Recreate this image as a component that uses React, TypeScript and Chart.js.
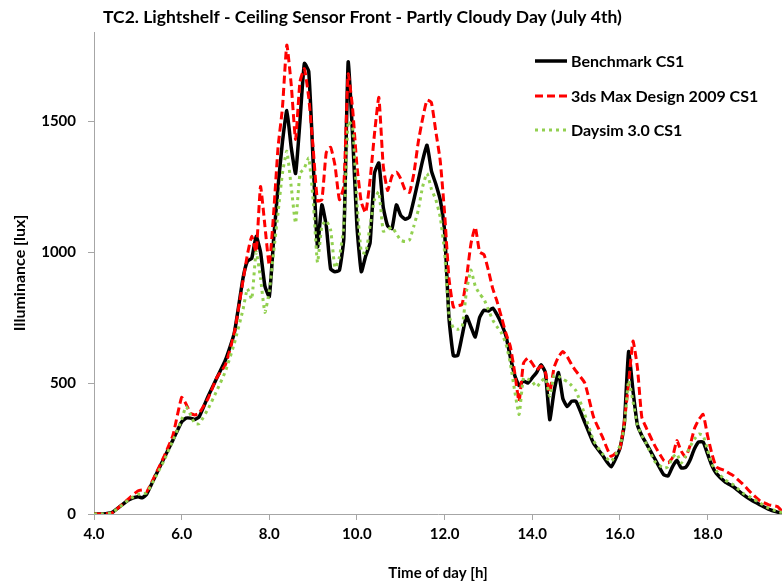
import React, { useEffect, useRef } from 'react';
import { Chart, registerables } from 'chart.js';

Chart.register(...registerables);

const FONT = 'Lato, "Open Sans", "DejaVu Sans", sans-serif';

const titleText = 'TC2. Lightshelf - Ceiling Sensor Front - Partly Cloudy Day (July 4th)';
const xAxisTitle = 'Time of day [h]';
const yAxisTitle = 'Illuminance [lux]';
const seriesNames = ['Benchmark CS1', '3ds Max Design 2009 CS1', 'Daysim 3.0 CS1'];

const xTickValues = [4, 6, 8, 10, 12, 14, 16, 18];
const yTickValues = [0, 500, 1000, 1500];

// time of day [h]
const times = [
  4.0, 4.2, 4.4, 4.6, 4.8, 5.0, 5.1, 5.2, 5.4, 5.6, 5.8, 6.0, 6.1, 6.2, 6.3, 6.4, 6.6, 6.8, 7.0, 7.2, 7.4,
  7.5, 7.6, 7.7, 7.8, 7.9, 8.0, 8.1, 8.2, 8.3, 8.4,
  8.5, 8.6, 8.7, 8.8, 8.9, 9.0, 9.1, 9.2, 9.3, 9.4,
  9.5, 9.6, 9.7, 9.8, 9.9, 10.0, 10.1, 10.2, 10.3, 10.4,
  10.5, 10.6, 10.7, 10.8, 10.9, 11.0, 11.1, 11.2, 11.3, 11.4,
  11.5, 11.6, 11.7, 11.8, 11.9, 12.0, 12.1, 12.2, 12.3, 12.4,
  12.5, 12.6, 12.7, 12.8, 12.9, 13.0, 13.1, 13.2, 13.3, 13.4,
  13.5, 13.6, 13.7, 13.8, 13.9, 14.0, 14.1, 14.2, 14.3, 14.4,
  14.5, 14.6, 14.7, 14.8, 14.9, 15.0,
  15.2, 15.4, 15.6, 15.8,
  16.0, 16.1, 16.2, 16.3, 16.4, 16.5, 16.6,
  16.8,
  17.0, 17.1, 17.2, 17.3, 17.4, 17.5, 17.6, 17.7, 17.8, 17.9, 18.0, 18.1, 18.2,
  18.4, 18.6, 18.8, 19.0, 19.2, 19.4, 19.6, 19.7,
];

const benchmark = [
  0, 0, 5, 30, 55, 66, 62, 75, 145, 214, 282, 352, 366, 366, 361, 371, 448, 518, 588, 690, 900,
  965, 976, 1060, 1000, 870, 830, 1050, 1250, 1420, 1540,
  1400, 1300, 1500, 1720, 1690, 1350, 1020, 1180, 1100, 935,
  925, 930, 1050, 1725, 1450, 1100, 925, 985, 1035, 1300,
  1340, 1172, 1100, 1090, 1180, 1140, 1125, 1134, 1200, 1275,
  1350, 1408, 1310, 1260, 1200, 1080, 750, 605, 605, 680,
  755, 715, 676, 750, 778, 775, 786, 760, 725, 680,
  600, 530, 490, 508, 500, 520, 540, 570, 540, 360,
  470, 540, 440, 410, 430, 430,
  350, 270, 225, 180,
  250, 340, 620, 470, 340, 300, 270,
  210,
  150, 145, 180, 205, 176, 178, 205, 248, 275, 275, 230, 185, 155,
  123, 103, 76, 53, 35, 18, 7, 2,
];

const max3ds = [
  0, 0, 3, 30, 60, 88, 92, 85, 150, 220, 300, 445, 420, 385, 378, 385, 440, 520, 570, 690, 890,
  990, 1060, 1000, 1250, 1100, 950, 1150, 1400, 1550, 1790,
  1640, 1430, 1650, 1700, 1590, 1400, 1195, 1200, 1380, 1400,
  1330, 1200, 1250, 1680, 1550, 1330, 1190, 1150, 1275, 1450,
  1590, 1330, 1235, 1290, 1305, 1280, 1237, 1228, 1300, 1420,
  1510, 1580, 1570, 1460, 1350, 1150, 900, 790, 795, 800,
  900, 1030, 1095, 1000, 990, 930, 860, 810, 750, 690,
  640, 540, 430, 575, 595, 575, 550, 565, 540, 465,
  560, 600, 620, 600, 570, 545,
  500, 370, 295, 220,
  250, 350, 500, 660, 560, 370, 330,
  260,
  205, 195, 215, 280, 240, 218, 260, 325, 360, 380, 300, 230, 180,
  165, 145, 115, 80, 50, 35, 28, 10,
];

const daysim = [
  0, 0, 5, 28, 55, 75, 78, 80, 140, 205, 280, 360, 410, 380, 345, 345, 400, 470, 545, 650, 780,
  860, 820, 1000, 900, 770, 850, 1000, 1150, 1300, 1385,
  1250, 1110, 1300, 1320, 1360, 1200, 960, 1100, 1120, 1084,
  940, 980, 1100, 1500, 1480, 1190, 1000, 996, 1100, 1200,
  1230, 1080, 1085, 1095, 1070, 1045, 1040, 1046, 1100, 1160,
  1250, 1300, 1240, 1200, 1134, 1000, 760, 710, 705, 714,
  850, 931, 870, 840, 820, 780, 740, 714, 690, 650,
  575, 470, 380, 520, 515, 505, 485, 505, 520, 450,
  530, 525, 515, 505, 490, 470,
  380, 280, 230, 200,
  260, 330, 510, 430, 340, 300, 270,
  200,
  175, 180, 215, 230, 195, 220, 256, 285, 305, 300, 245, 190, 165,
  130, 110, 80, 62, 42, 22, 10, 5,
];

export default function App() {
  const canvasRef = useRef<HTMLCanvasElement | null>(null);

  useEffect(() => {
    if (!canvasRef.current) return;
    const toPoints = (vals: number[]) => times.map((t, i) => ({ x: t, y: vals[i] }));

    const overlayPlugin = {
      id: 'titleAndLegend',
      afterDraw(chart: any) {
        const ctx = chart.ctx as CanvasRenderingContext2D;
        ctx.save();
        ctx.fillStyle = '#000';
        ctx.textBaseline = 'middle';
        ctx.textAlign = 'left';
        ctx.font = `bold 17.5px ${FONT}`;
        ctx.fillText(titleText, 103, 17);

        const rows = [61, 96, 130];
        chart.data.datasets.forEach((ds: any, i: number) => {
          const y = rows[i];
          ctx.beginPath();
          ctx.setLineDash(ds.borderDash || []);
          ctx.lineWidth = ds.borderWidth;
          ctx.strokeStyle = ds.borderColor;
          ctx.lineCap = ds.borderCapStyle || 'butt';
          ctx.moveTo(535, y);
          ctx.lineTo(567, y);
          ctx.stroke();
          ctx.setLineDash([]);
          ctx.fillStyle = '#000';
          ctx.font = `bold 16px ${FONT}`;
          ctx.fillText(ds.label, 571, y + 1);
        });
        ctx.restore();
      },
    };

    const axisColor = '#a6a6a6';
    const tickFont = { family: FONT, size: 15, weight: 'bold' as const };

    const chart = new Chart(canvasRef.current, {
      type: 'line',
      data: {
        datasets: [
          {
            label: seriesNames[0],
            data: toPoints(benchmark),
            borderColor: '#000000',
            borderWidth: 3.5,
            pointRadius: 0,
            tension: 0.15,
            borderJoinStyle: 'round',
            order: 3,
          },
          {
            label: seriesNames[1],
            data: toPoints(max3ds),
            borderColor: '#ff0000',
            borderWidth: 3,
            borderDash: [8, 4],
            pointRadius: 0,
            tension: 0.15,
            borderJoinStyle: 'round',
            order: 2,
          },
          {
            label: seriesNames[2],
            data: toPoints(daysim),
            borderColor: '#92d050',
            borderWidth: 3,
            borderDash: [3, 4],
            pointRadius: 0,
            tension: 0.15,
            borderJoinStyle: 'round',
            order: 1,
          },
        ] as any,
      },
      options: {
        animation: false,
        responsive: true,
        maintainAspectRatio: false,
        layout: { padding: { top: 32, left: 0, right: 0, bottom: 0 } },
        plugins: {
          legend: { display: false },
          title: { display: false },
          tooltip: { enabled: false },
        },
        scales: {
          x: {
            type: 'linear',
            min: 4,
            max: 19.7,
            afterBuildTicks: (s: any) => {
              s.ticks = xTickValues.map((v) => ({ value: v }));
            },
            afterFit: (s: any) => {
              s.height = 72;
            },
            grid: { drawOnChartArea: false, drawTicks: true, tickLength: 6, color: axisColor },
            border: { display: true, color: axisColor, width: 1 },
            ticks: {
              callback: (v: any) => Number(v).toFixed(1),
              font: tickFont,
              color: '#000',
              padding: 5,
              maxRotation: 0,
              autoSkip: false,
            },
            title: {
              display: true,
              text: xAxisTitle,
              font: tickFont,
              color: '#000',
              padding: { top: 0, bottom: 4 },
            },
          },
          y: {
            type: 'linear',
            min: 0,
            max: 1840,
            afterBuildTicks: (s: any) => {
              s.ticks = yTickValues.map((v) => ({ value: v }));
            },
            afterFit: (s: any) => {
              s.width = 94;
            },
            grid: { drawOnChartArea: false, drawTicks: true, tickLength: 6, color: axisColor },
            border: { display: true, color: axisColor, width: 1 },
            ticks: {
              callback: (v: any) => String(v),
              font: tickFont,
              color: '#000',
              padding: 12,
            },
            title: {
              display: true,
              text: yAxisTitle,
              font: { family: FONT, size: 16, weight: 'bold' as const },
              color: '#000',
              padding: { top: 10, bottom: 0 },
            },
          },
        },
      },
      plugins: [overlayPlugin],
    });

    return () => chart.destroy();
  }, []);

  return (
    <div style={{ position: 'absolute', left: 0, top: 0, width: 782, height: 586, background: '#fff' }}>
      <canvas ref={canvasRef} />
    </div>
  );
}
